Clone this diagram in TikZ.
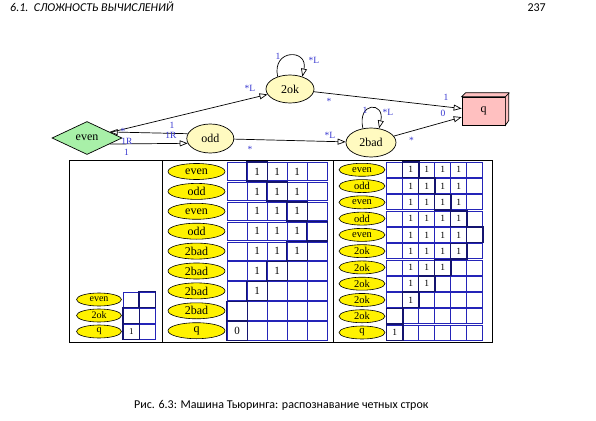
\documentclass[tikz,border=0pt]{standalone}
\usepackage{fontspec}
\setmainfont{Liberation Serif}
\newfontfamily\calibri{Carlito}
\usetikzlibrary{shapes.geometric,arrows.meta}
\definecolor{evengreen}{HTML}{A8F0A8}
\definecolor{stateyellow}{HTML}{FFFAC0}
\definecolor{qpink}{HTML}{FFC0C0}
\definecolor{lblblue}{HTML}{3838D0}
\definecolor{cellblue}{HTML}{2424B8}
\definecolor{headnavy}{HTML}{141470}
\begin{document}
\begin{tikzpicture}[x=1pt,y=-1pt,
                    arrow/.style = {line width=0.7pt,-{Triangle[open,length=8pt,width=6pt]}},
                    state/.style = {ellipse,draw,line width=0.7pt,fill=stateyellow,inner sep=0pt,font=\fontsize{12}{14}\selectfont},
                    lbl/.style = {text=lblblue,inner sep=0pt,font=\fontsize{9.5}{11}\selectfont},
                    tag/.style = {ellipse,draw,line width=0.6pt,fill=yellow,inner sep=0pt},
                    cell/.style = {draw=cellblue,line width=0.7pt,inner sep=0pt},
                    headline/.style = {draw=headnavy,line width=1.5pt},
                    pagetext/.style = {inner sep=0pt,font=\calibri\fontsize{12}{14}\selectfont}]
                    \useasboundingbox (0,0) rectangle (596,420);

                    % Page head and caption
                    \node[pagetext,anchor=base west,font=\calibri\itshape\fontsize{12}{14}\selectfont] (chapter) at (10,12) {6.1.\ \ СЛОЖНОСТЬ ВЫЧИСЛЕНИЙ};
                    \node[pagetext,anchor=base east] (page) at (546,12) {237};
                    \node[pagetext,anchor=base west] (caption) at (134,408) {Рис. 6.3: Машина Тьюринга: распознавание четных строк};

                    % Graph
                    \node[diamond,draw,line width=0.7pt,fill=evengreen,minimum width=70pt,minimum height=33pt,inner sep=0pt,font=\fontsize{12}{14}\selectfont] (even) at (87,138) {even};
                    \node[state,minimum width=47pt,minimum height=29pt] (odd) at (210.3,138.5) {odd};
                    \node[state,minimum width=48pt,minimum height=28pt] (ok2) at (290,89) {2ok};
                    \node[state,minimum width=50pt,minimum height=29pt] (bad2) at (371,142.5) {2bad};
                    \node[draw,line width=0.7pt,fill=qpink,minimum width=43pt,minimum height=28pt,font=\fontsize{12}{14}\selectfont] (q) at (483.5,111) {q};
                    \filldraw[line width=0.7pt,fill=qpink] (q.north west) -- ++(4,-4) -- ++(43,0) -- ++(0,28) -- (q.south east) -- (q.north east) -- cycle;
                    \draw[line width=0.7pt] (q.north east) -- ++(4,-4);

                    \draw[arrow] (even) -- (ok2);
                    \draw[arrow] (odd.168) -- (even.15);
                    \draw[arrow] (even.-15) -- (odd.192);
                    \draw[arrow] (odd) -- (bad2);
                    \draw[arrow] (ok2) -- (q);
                    \draw[arrow] (bad2) -- (q);
                    \draw[arrow] (ok2.135) .. controls +(-6,-28) and +(6,-28) .. (ok2.45);
                    \draw[arrow] (bad2.120) .. controls +(-6,-27) and +(6,-27) .. (bad2.60);

                    \node[lbl] (l-even-ok) at (250,88) {*L};
                    \node[lbl] (l-ok-loop1) at (278,56) {1};
                    \node[lbl] (l-ok-loop2) at (314,60) {*L};
                    \node[lbl] (l-ok-q1) at (329,101) {*};
                    \node[lbl] (l-ok-q2) at (446,97) {1};
                    \node[lbl] (l-bad-q1) at (411.5,140) {*};
                    \node[lbl] (l-bad-q2) at (443,113) {0};
                    \node[lbl] (l-odd-bad1) at (250,149) {*};
                    \node[lbl] (l-odd-bad2) at (330,135) {*L};
                    \node[lbl] (l-bad-loop1) at (365,110) {1};
                    \node[lbl] (l-bad-loop2) at (388,112) {*L};
                    \node[lbl] (l-odd-even1) at (123,131.5) {*};
                    \node[lbl] (l-odd-even2) at (127,141) {1R};
                    \node[lbl] (l-even-odd1) at (126.5,152) {1};
                    \node[lbl] (l-even-odd2) at (172,125) {1};
                    \node[lbl] (l-even-odd3) at (171,135) {1R};

                    % Tapes
                    \draw[line width=0.8pt] (69,160.5) rectangle (492,342);
                    \draw[line width=0.8pt] (162.5,160.5) -- (162.5,342);
                    \draw[line width=0.8pt] (333.5,160.5) -- (333.5,342);

                    \foreach \st/\hd/\ones/\res [count=\r from 0] in {even/1/0/{},2ok/0/0/{},q/0/0/1}{
                        \node[tag,minimum width=45pt,minimum height=13pt,font=\fontsize{10}{11}\selectfont] (a-\r) at (99,299.5+16*\r) {\st};
                        \foreach \k in {0,1}
                            \node[cell,minimum width=16pt,minimum height=15pt,font=\fontsize{9}{10}\selectfont] (a-\r-\k) at (131.3+16*\k,299.5+16*\r) {\ifnum\k=0 \res\else\ifnum\k>\ones\else 1\fi\fi};
                        \draw[headline] (a-\r-\hd.north west) rectangle (a-\r-\hd.south east);
                    }

                    \foreach \st/\hd/\ones/\res [count=\r from 0] in {even/1/3/{},odd/2/3/{},even/3/3/{},odd/4/3/{},2bad/3/3/{},2bad/2/2/{},2bad/1/1/{},2bad/0/0/{},q/0/0/0}{
                        \node[tag,minimum width=57pt,minimum height=16pt,font=\fontsize{12}{13}\selectfont] (b-\r) at (196.5,171.5+19.9*\r) {\st};
                        \foreach \k in {0,...,4}
                            \node[cell,minimum width=20pt,minimum height=18.4pt,font=\fontsize{11}{12}\selectfont] (b-\r-\k) at (237+20*\k,171.5+19.9*\r) {\ifnum\k=0 \res\else\ifnum\k>\ones\else 1\fi\fi};
                        \draw[headline] (b-\r-\hd.north west) rectangle (b-\r-\hd.south east);
                    }

                    \foreach \st/\hd/\ones/\res [count=\r from 0] in {even/1/4/{},odd/2/4/{},even/3/4/{},odd/4/4/{},even/5/4/{},2ok/4/4/{},2ok/3/3/{},2ok/2/2/{},2ok/1/1/{},2ok/0/0/{},q/0/0/1}{
                        \node[tag,minimum width=46pt,minimum height=13pt,font=\fontsize{10.5}{11}\selectfont] (c-\r) at (362,169.8+16.27*\r) {\st};
                        \foreach \k in {0,...,5}
                            \node[cell,minimum width=16pt,minimum height=15pt,font=\fontsize{9.5}{10}\selectfont] (c-\r-\k) at (394.7+16*\k,169.8+16.27*\r) {\ifnum\k=0 \res\else\ifnum\k>\ones\else 1\fi\fi};
                        \draw[headline] (c-\r-\hd.north west) rectangle (c-\r-\hd.south east);
                    }
                \end{tikzpicture}
\end{document}
